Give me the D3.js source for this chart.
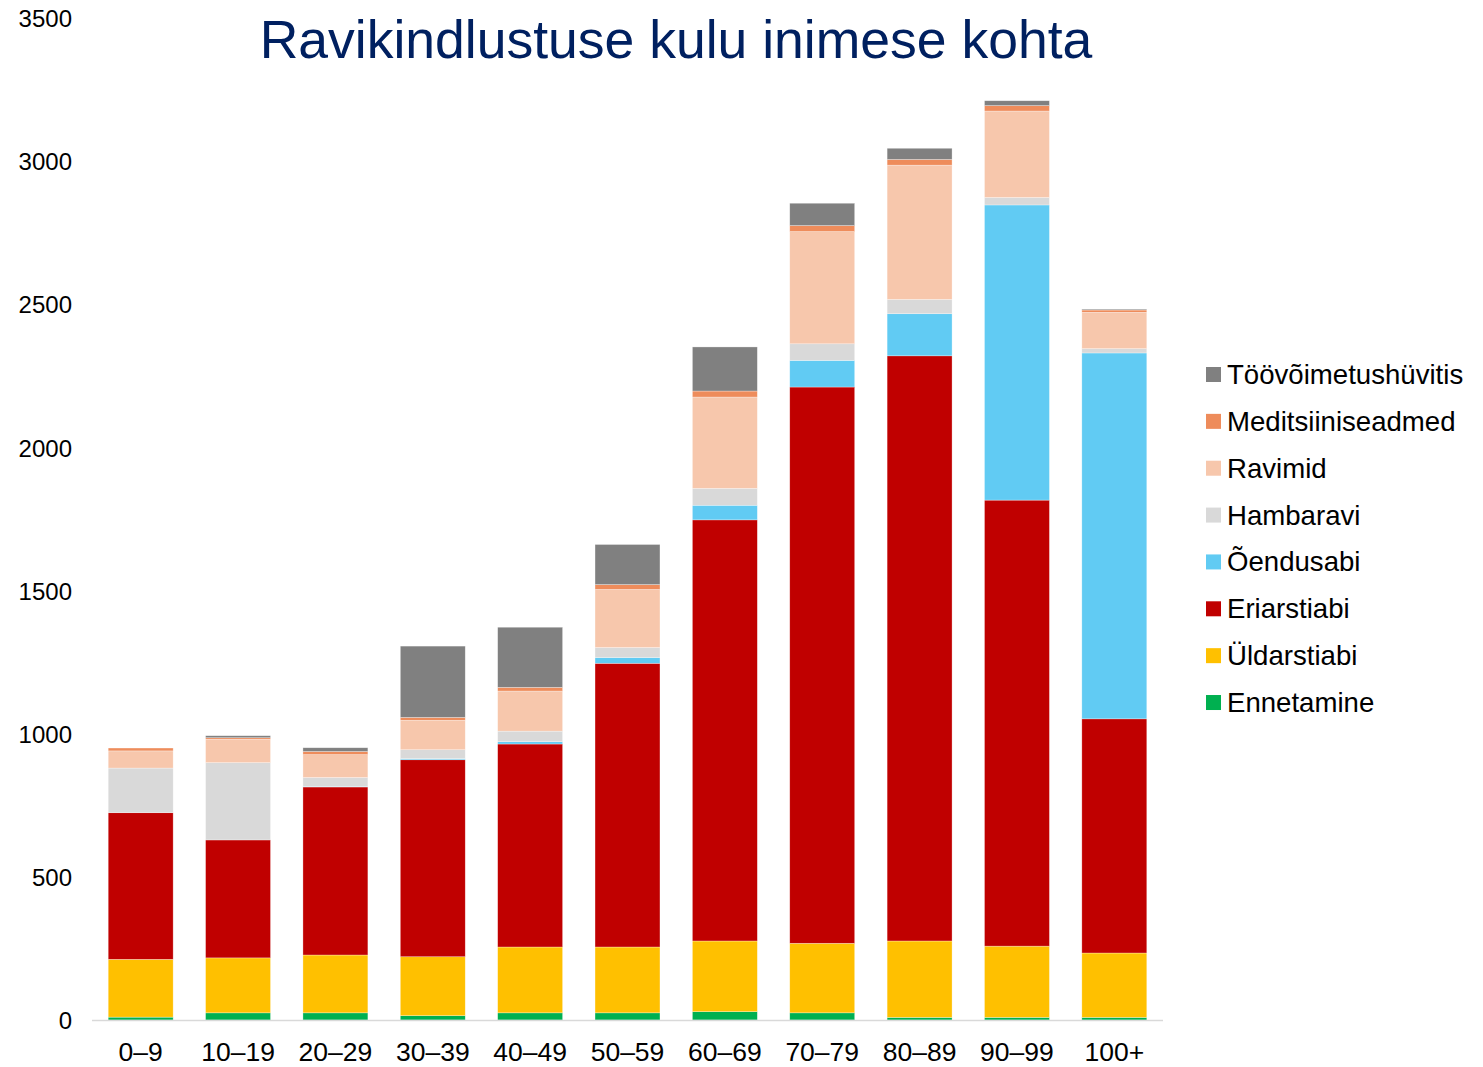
<!DOCTYPE html>
<html>
<head>
<meta charset="utf-8">
<script src="https://cdn.jsdelivr.net/npm/d3@7"></script>
<style>
  html, body { margin: 0; padding: 0; background: #ffffff; }
  svg { display: block; font-family: "Liberation Sans", Arial, sans-serif; }
</style>
</head>
<body>
<svg id="chart" width="1483" height="1067"></svg>
<script>
// ---- Data ----
const categories = ["0–9","10–19","20–29","30–39","40–49","50–59","60–69","70–79","80–89","90–99","100+"];
const ennetamine        = [10, 25, 25, 15, 25, 25, 29, 25, 9, 9, 9];
const yldarstiabi       = [202, 192, 202, 206, 230, 230, 247, 243, 267, 249, 225];
const eriarstiabi       = [512, 412, 587, 688, 709, 991, 1471, 1943, 2044, 1558, 818];
const oendusabi         = [0, 0, 2, 4, 8, 20, 51, 93, 147, 1031, 1278];
const hambaravi         = [156, 270, 31, 31, 37, 35, 59, 58, 50, 26, 15];
const ravimid           = [60, 82, 80, 103, 140, 203, 319, 392, 469, 302, 127];
const meditsiiniseadmed = [10, 5, 11, 10, 13, 17, 21, 21, 20, 19, 8];
const toovoimetus       = [0, 7, 13, 249, 210, 140, 154, 78, 39, 17, 3];
const yTicks = [0, 500, 1000, 1500, 2000, 2500, 3000, 3500];

const seriesNames = ["Ennetamine","Üldarstiabi","Eriarstiabi","Õendusabi","Hambaravi","Ravimid","Meditsiiniseadmed","Töövõimetushüvitis"];
const seriesValues = [ennetamine, yldarstiabi, eriarstiabi, oendusabi, hambaravi, ravimid, meditsiiniseadmed, toovoimetus];
const seriesColors = ["#00B050","#FFC000","#C00000","#61CBF3","#D9D9D9","#F7C7AC","#EE8C5B","#808080"];

// ---- Build table ----
const table = categories.map((c, i) => {
  const row = { cat: c };
  seriesNames.forEach((s, j) => row[s] = seriesValues[j][i]);
  return row;
});

const svg = d3.select("#chart");

const x = d3.scaleBand().domain(categories).range([92, 1163]).paddingInner(0.333).paddingOuter(0.1665);
const y = d3.scaleLinear().domain([0, 3500]).range([1020, 18]);

const stacked = d3.stack().keys(seriesNames)(table);

// Bars
svg.append("g").selectAll("g.series")
  .data(stacked)
  .join("g")
  .attr("class", "series")
  .attr("fill", (d, i) => seriesColors[i])
  .selectAll("rect")
  .data(d => d)
  .join("rect")
  .attr("x", d => x(d.data.cat))
  .attr("width", x.bandwidth())
  .attr("y", d => y(d[1]))
  .attr("height", d => Math.max(0, y(d[0]) - y(d[1])))
  .attr("stroke", "#ffffff")
  .attr("stroke-opacity", 0.5)
  .attr("stroke-width", 0.6);

// X axis line
svg.append("line")
  .attr("x1", 92).attr("x2", 1163)
  .attr("y1", y(0) + 0.5).attr("y2", y(0) + 0.5)
  .attr("stroke", "#D9D9D9").attr("stroke-width", 1.5);

// X labels
const xAxis = d3.axisBottom(x).tickSize(0).tickPadding(0);
const xg = svg.append("g").attr("transform", "translate(0,1020)").call(xAxis);
xg.select(".domain").remove();
xg.selectAll("text")
  .attr("y", 41)
  .attr("dy", 0)
  .attr("font-size", "26.5px")
  .attr("font-family", "'Liberation Sans', Arial, sans-serif")
  .attr("fill", "#000");

// Y labels
const yAxis = d3.axisLeft(y).tickValues(yTicks).tickSize(0).tickPadding(0).tickFormat(d3.format("d"));
const yg = svg.append("g").attr("transform", "translate(72,0)").call(yAxis);
yg.select(".domain").remove();
yg.selectAll("text")
  .attr("x", 0)
  .attr("dy", "0.36em")
  .attr("font-size", "24px")
  .attr("font-family", "'Liberation Sans', Arial, sans-serif")
  .attr("fill", "#000");

// Title
svg.append("text")
  .attr("x", 676).attr("y", 58)
  .attr("text-anchor", "middle")
  .attr("font-size", "53.5px")
  .attr("fill", "#002060")
  .text("Ravikindlustuse kulu inimese kohta");

// Legend (reverse of stack order)
const legendOrder = seriesNames.map((s, i) => ({ name: s, color: seriesColors[i] })).reverse();
const lg = svg.append("g");
legendOrder.forEach((d, i) => {
  const cy = 374.5 + i * 46.86;
  lg.append("rect")
    .attr("x", 1206).attr("y", cy - 7.5)
    .attr("width", 15).attr("height", 15)
    .attr("fill", d.color);
  lg.append("text")
    .attr("x", 1227).attr("y", cy + 9.5)
    .attr("font-size", "27.6px")
    .attr("fill", "#000")
    .text(d.name);
});
</script>
</body>
</html>
